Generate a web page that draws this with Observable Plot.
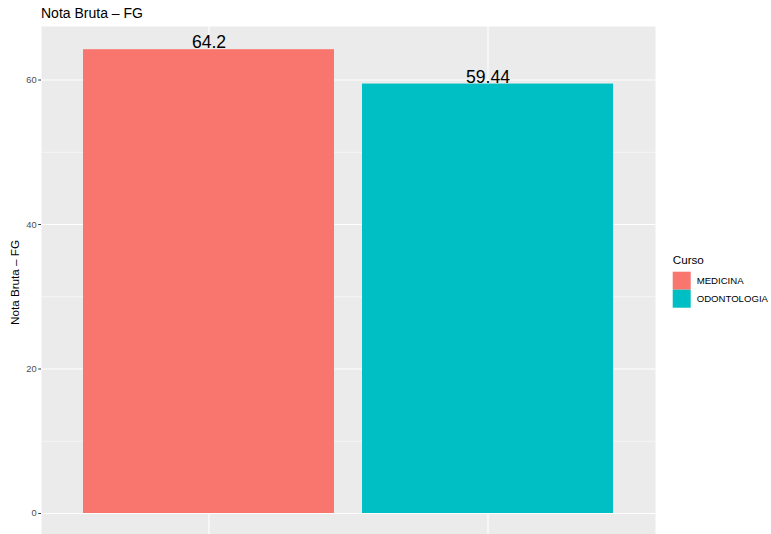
<!DOCTYPE html>
<html>
<head>
<meta charset="utf-8">
<script src="https://cdn.jsdelivr.net/npm/d3@7"></script>
<script src="https://cdn.jsdelivr.net/npm/@observablehq/plot@0.6"></script>
<style>
  body { margin: 0; background: #fff; }
  svg { display: block; }
</style>
</head>
<body>
<div id="chart"></div>
<script>
const cursos = ["MEDICINA", "ODONTOLOGIA"];
const notas = [64.2, 59.44];
const cores = ["#F8766D", "#00BFC4"];
const yTicks = [0, 20, 40, 60];
const yMinor = [10, 30, 50];
const titulo = "Nota Bruta \u2013 FG";
const yTitulo = "Nota Bruta \u2013 FG";
const legendaTitulo = "Curso";

const data = cursos.map((c, i) => ({curso: c, nota: notas[i]}));
const font = "'Liberation Sans', Arial, sans-serif";

const plot = Plot.plot({
  width: 771,
  height: 534,
  marginLeft: 41,
  marginRight: 116,
  marginTop: 26,
  marginBottom: 0,
  style: {fontFamily: font, background: "#fff"},
  x: {domain: cursos, paddingInner: 0.1, paddingOuter: 0.15, axis: null},
  y: {domain: [-2.907, 67.41], axis: null},
  color: {domain: cursos, range: cores},
  marks: [
    Plot.frame({fill: "#EBEBEB", stroke: null}),
    Plot.ruleY(yMinor, {stroke: "#fff", strokeWidth: 0.55}),
    Plot.ruleY(yTicks, {stroke: "#fff", strokeWidth: 1.1}),
    Plot.ruleX(cursos, {x: d => d, stroke: "#fff", strokeWidth: 1.1}),
    Plot.barY(data, {x: "curso", y: "nota", fill: "curso", inset: 0}),
    Plot.text(data, {x: "curso", y: "nota", text: d => String(d.nota), lineAnchor: "bottom", dy: -1.5, fontSize: 17.6, fill: "#000"}),
    Plot.axisY(yTicks, {tickSize: 2.74, tickPadding: 2.2, fontSize: 9.3, color: "#4D4D4D", stroke: "#333333", label: null})
  ]
});

document.getElementById("chart").appendChild(plot);

const svg = d3.select(plot);
// Title
svg.append("text").attr("x", 41).attr("y", 17.5)
  .attr("text-anchor", "start")
  .attr("font-family", font).attr("font-size", 14).attr("fill", "#000")
  .text(titulo);
// Y axis title
svg.append("text").attr("transform", "translate(18.5,282.5) rotate(-90)")
  .attr("text-anchor", "middle")
  .attr("font-family", font).attr("font-size", 11.7).attr("fill", "#000")
  .text(yTitulo);
// Legend
const lg = svg.append("g").attr("font-family", font).attr("text-anchor", "start");
lg.append("text").attr("x", 672.7).attr("y", 264).attr("font-size", 11.7).attr("fill", "#000").text(legendaTitulo);
cursos.forEach((c, i) => {
  const y0 = 271.7 + i * 18;
  lg.append("rect").attr("x", 672.7).attr("y", y0).attr("width", 18).attr("height", 18).attr("fill", cores[i]);
  lg.append("text").attr("x", 696.7).attr("y", y0 + 12.6).attr("font-size", 9.6).attr("fill", "#000").text(c);
});
</script>
</body>
</html>
